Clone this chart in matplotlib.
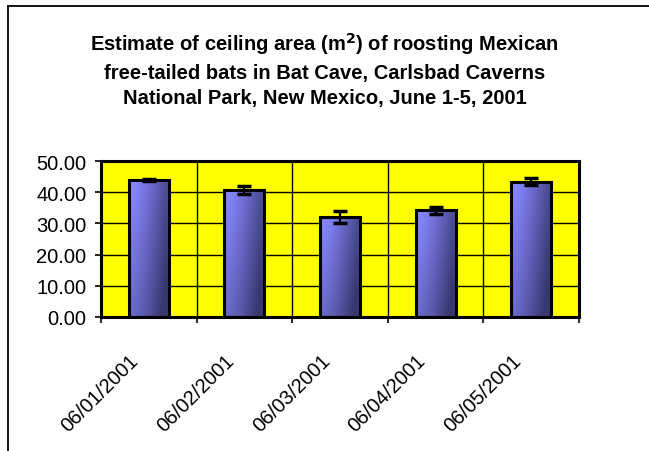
import numpy as np
import matplotlib
matplotlib.use("Agg")
import matplotlib.pyplot as plt
from matplotlib.lines import Line2D
from matplotlib.transforms import ScaledTranslation

plt.rcParams['font.family'] = ['Liberation Sans', 'DejaVu Sans']

# ----- data -----
dates = ['06/01/2001', '06/02/2001', '06/03/2001', '06/04/2001', '06/05/2001']
area = [43.9, 40.7, 32.1, 34.2, 43.4]
err = [0.3, 1.3, 1.9, 1.1, 1.1]
yticks = [0, 10, 20, 30, 40, 50]

fig = plt.figure(figsize=(6.49, 4.52), dpi=100)
ax = fig.add_axes([101/649, 1-318/452, 478/649, 156/452])

x = np.arange(len(dates))
bars = ax.bar(x, area, width=0.42, color='none', edgecolor='black',
              linewidth=2.2, zorder=3)

# gradient fill inside each bar: light top-left, dark bottom / right
gx = np.linspace(0, 1, 64)
gy = np.linspace(0, 1, 64)
GX, GY = np.meshgrid(gx, gy)
light = np.array([0.53, 0.53, 1.0])
dark = np.array([0.22, 0.22, 0.44])
tx = np.clip(GX * 1.25 - 0.1, 0, 1) ** 1.3
t = np.clip(tx * 0.7 + GY * 0.4, 0, 1)
img = light[None, None, :] * (1 - t[..., None]) + dark[None, None, :] * t[..., None]
for b in bars:
    x0, y0 = b.get_x(), b.get_y()
    w, h = b.get_width(), b.get_height()
    im = ax.imshow(img, extent=[x0, x0 + w, y0, y0 + h], origin='upper',
                   aspect='auto', zorder=2.5)
    im.set_clip_path(b)

ax.errorbar(x, area, yerr=err, fmt='none', ecolor='black', elinewidth=1.6,
            capsize=5, capthick=2.5, zorder=4)

ax.set_xlim(-0.5, len(dates) - 0.5)
ax.set_ylim(0, 50)
ax.set_facecolor('#ffff00')
ax.set_yticks(yticks)
ax.set_yticklabels(['%.2f' % v for v in yticks], fontsize=14.5)
ax.set_xticks(np.arange(len(dates) + 1) - 0.5)
ax.set_xticklabels([])
ax.tick_params(axis='both', direction='out', length=4.5, width=1.2, color='black')
ax.tick_params(axis='y', pad=6)
ax.grid(True, color='black', linewidth=1, zorder=1)
ax.set_axisbelow(True)
for s in ax.spines.values():
    s.set_linewidth(2.2)
    s.set_zorder(5)

# rotated date labels
offs = ScaledTranslation(-13/100, -40/100, fig.dpi_scale_trans)
for i, d in enumerate(dates):
    ax.text(i, 0, d, transform=ax.get_xaxis_transform() + offs, rotation=45,
            rotation_mode='anchor', ha='right', va='center', fontsize=14.5)

fig.text(0.5, 1-31/452, 'Estimate of ceiling area (m$^{\\mathbf{2}}$) of roosting Mexican\n'
         'free-tailed bats in Bat Cave, Carlsbad Caverns\n'
         'National Park, New Mexico, June 1-5, 2001',
         ha='center', va='top', fontsize=14.5, fontweight='bold', linespacing=1.45)

# chart frame
fig.add_artist(Line2D([8/649, 8/649], [0, 1-7/452], color='black', linewidth=1.3))
fig.add_artist(Line2D([8/649, 1], [1-7/452, 1-7/452], color='black', linewidth=1.3))

fig.savefig('out.png', dpi=100)
